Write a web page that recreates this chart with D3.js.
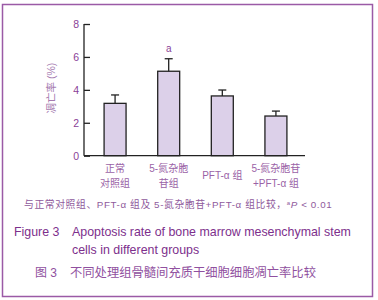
<!DOCTYPE html>
<html>
<head>
<meta charset="utf-8">
<script src="https://cdn.jsdelivr.net/npm/d3@7"></script>
<style>
  body { margin: 0; background: #fff; }
  svg text { font-family: "Liberation Sans", Arial, "Noto Sans CJK SC", sans-serif; }
</style>
</head>
<body>
<div id="chart"></div>
<script>
// data
const groups = ["g1", "g2", "g3", "g4"];
const groupLabels = [["正常", "对照组"], ["5-氮杂胞", "苷组"], ["PFT-α 组"], ["5-氮杂胞苷", "+PFT-α 组"]];
const means = [3.18, 5.13, 3.63, 2.41];
const errors = [0.51, 0.76, 0.36, 0.30];
const marks = ["", "a", "", ""];
const yTicks = [0, 2, 4, 6, 8];

const purple = "#8a3f97";
const W = 378, H = 300;

const svg = d3.select("#chart").append("svg")
    .attr("width", W)
    .attr("height", H);

svg.append("rect")
    .attr("width", W).attr("height", H).attr("fill", "#fff");

// frame
svg.append("rect")
    .attr("x", 2.5).attr("y", 4.5)
    .attr("width", 370).attr("height", 292)
    .attr("fill", "none")
    .attr("stroke", "#9b5aa6")
    .attr("stroke-width", 1.5);

// plot area
const x0 = 84, x1 = 305, yTop = 24, yBot = 155.7;

const x = d3.scaleBand()
    .domain(groups)
    .range([x0 + 4, x1 - 2])
    .paddingInner(0.59)
    .paddingOuter(0.3);

const y = d3.scaleLinear()
    .domain([0, 8])
    .range([yBot, yTop]);

// bars
svg.selectAll("rect.bar")
    .data(groups)
    .enter().append("rect")
    .attr("class", "bar")
    .attr("x", d => x(d))
    .attr("y", (d, i) => y(means[i]))
    .attr("width", x.bandwidth())
    .attr("height", (d, i) => yBot - y(means[i]))
    .attr("fill", "#dcd0e9")
    .attr("stroke", "#222")
    .attr("stroke-width", 1.3);

// error bars (upper only)
groups.forEach((g, i) => {
    const cx = x(g) + x.bandwidth() / 2;
    svg.append("line")
        .attr("x1", cx).attr("x2", cx)
        .attr("y1", y(means[i])).attr("y2", y(means[i] + errors[i]))
        .attr("stroke", "#222").attr("stroke-width", 1.3);
    svg.append("line")
        .attr("x1", cx - 4).attr("x2", cx + 4)
        .attr("y1", y(means[i] + errors[i])).attr("y2", y(means[i] + errors[i]))
        .attr("stroke", "#222").attr("stroke-width", 1.3);
    if (marks[i]) {
        svg.append("text")
            .attr("x", cx)
            .attr("y", y(means[i] + errors[i]) - 7)
            .attr("text-anchor", "middle")
            .style("font-size", "10px")
            .attr("fill", purple)
            .text(marks[i]);
    }
});

// y axis with inward ticks
const yAxis = svg.append("g")
    .attr("transform", `translate(${x0},0)`)
    .call(d3.axisRight(y).tickValues(yTicks).tickSize(6).tickFormat(d3.format("d")));
yAxis.select(".domain").attr("stroke", "#222").attr("stroke-width", 1.3).attr("d", `M0,${yTop}V${yBot}`);
yAxis.selectAll(".tick line").attr("stroke", "#222").attr("stroke-width", 1.3);
yAxis.selectAll(".tick text")
    .attr("x", -5)
    .attr("text-anchor", "end")
    .attr("fill", purple)
    .style("font-size", "10.5px");

// x axis line
svg.append("line")
    .attr("x1", x0).attr("x2", x1)
    .attr("y1", yBot).attr("y2", yBot)
    .attr("stroke", "#222").attr("stroke-width", 1.3);

// y label
svg.append("text")
    .attr("transform", `translate(51,88) rotate(-90)`)
    .attr("text-anchor", "middle")
    .attr("dy", "0.35em")
    .attr("fill", "#a57bb0")
    .style("font-size", "10.5px")
    .text("凋亡率 (%)");

// x labels
groups.forEach((g, i) => {
    const cx = x(g) + x.bandwidth() / 2;
    const lines = groupLabels[i];
    const t = svg.append("text")
        .attr("text-anchor", "middle")
        .attr("fill", "#9a62a6")
        .style("font-size", "10px");
    lines.forEach((l, j) => {
        t.append("tspan")
            .attr("x", cx)
            .attr("y", lines.length === 1 ? 179 : 172 + j * 15)
            .text(l);
    });
});

// footnote
const foot = svg.append("text")
    .attr("x", 24).attr("y", 208)
    .attr("fill", "#8f5a9c")
    .style("font-size", "9.8px")
    .style("letter-spacing", "0.6px");
foot.append("tspan").text("与正常对照组、PFT-α 组及 5-氮杂胞苷+PFT-α 组比较，");
foot.append("tspan").attr("font-size", "6px").attr("dy", "-3").text("a");
foot.append("tspan").attr("dy", "3").attr("font-style", "italic").text("P");
foot.append("tspan").text(" < 0.01");

// caption
svg.append("text")
    .attr("x", 14).attr("y", 236)
    .attr("fill", "#7d2f8c")
    .style("font-size", "12.4px")
    .text("Figure 3");
svg.append("text")
    .attr("x", 72).attr("y", 236)
    .attr("fill", "#7d2f8c")
    .style("font-size", "12.4px")
    .text("Apoptosis rate of bone marrow mesenchymal stem");
svg.append("text")
    .attr("x", 72).attr("y", 254)
    .attr("fill", "#7d2f8c")
    .style("font-size", "12.4px")
    .text("cells in different groups");
svg.append("text")
    .attr("x", 35).attr("y", 277)
    .attr("fill", "#9050a0")
    .style("font-size", "12px")
    .text("图 3");
svg.append("text")
    .attr("x", 70).attr("y", 277)
    .attr("fill", "#9050a0")
    .style("font-size", "12.3px")
    .text("不同处理组骨髓间充质干细胞细胞凋亡率比较");
</script>
</body>
</html>
